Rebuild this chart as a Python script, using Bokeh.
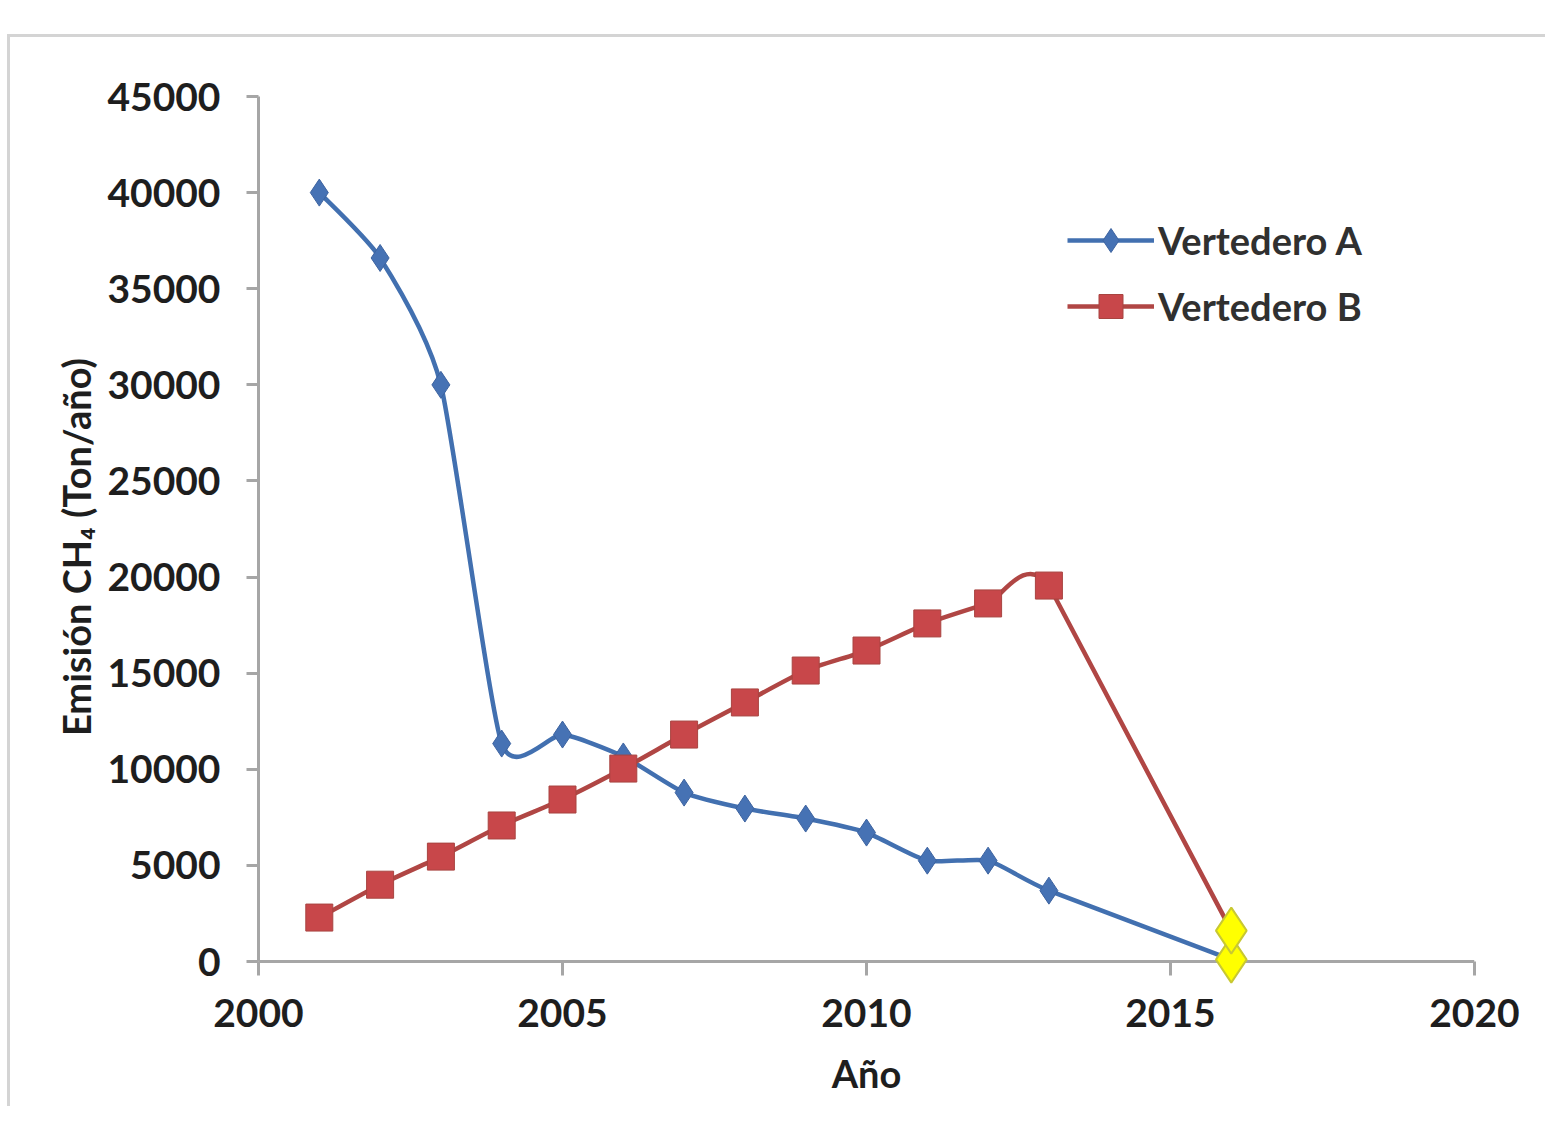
from bokeh.plotting import figure
from bokeh.models import Range1d, Legend, LegendItem, FixedTicker, BasicTickFormatter, Span
from bokeh.embed import file_html
from bokeh.resources import INLINE

years = [2001, 2002, 2003, 2004, 2005, 2006, 2007, 2008, 2009, 2010, 2011, 2012, 2013, 2016]
vert_a = [40000, 36600, 30000, 11340, 11810, 10670, 8790, 7960, 7440, 6710, 5250, 5250, 3690, 100]
vert_b = [2290, 4000, 5460, 7080, 8430, 10040, 11810, 13480, 15140, 16180, 17590, 18630, 19560, 1610]
x_ticks = [2000, 2005, 2010, 2015, 2020]
y_ticks = [0, 5000, 10000, 15000, 20000, 25000, 30000, 35000, 40000, 45000]

BLUE = "#4270b0"
BLUE_M = "#4672b4"
RED = "#b04644"
RED_M = "#c8474a"
AXIS = "#a6a6a6"

W, H = 1538, 1072
p = figure(width=W, height=H, output_backend="svg", toolbar_location=None,
           x_range=Range1d(2000, 2020), y_range=Range1d(-1400, 45000),
           min_border_left=248, min_border_top=59, min_border_right=74, min_border_bottom=121)
p.styles = {"position": "relative", "top": "27px", "transform": "translate(7px, 7px)",
            "border-left": "3px solid #d4d4d4", "border-top": "3px solid #d4d4d4"}
p.outline_line_color = None
p.xgrid.visible = False
p.ygrid.visible = False
p.background_fill_color = "white"

TENSION = 0.1


def smooth_segments(xs, ys):
    # Excel-like smoothing: cubic Bezier per segment; final segment kept straight
    n = len(xs)
    seg = dict(x0=[], y0=[], x1=[], y1=[], cx0=[], cy0=[], cx1=[], cy1=[])
    for i in range(n - 1):
        x0, y0, x1, y1 = xs[i], ys[i], xs[i + 1], ys[i + 1]
        seg["x0"].append(x0); seg["y0"].append(y0)
        seg["x1"].append(x1); seg["y1"].append(y1)
        if i == n - 2:
            seg["cx0"].append(x0 + (x1 - x0) / 3.0); seg["cy0"].append(y0 + (y1 - y0) / 3.0)
            seg["cx1"].append(x1 - (x1 - x0) / 3.0); seg["cy1"].append(y1 - (y1 - y0) / 3.0)
            continue
        xp, yp = (xs[i - 1], ys[i - 1]) if i > 0 else (x0, y0)
        xn, yn = (xs[i + 2], ys[i + 2]) if i + 2 < n else (x1, y1)
        seg["cx0"].append(x0 + (x1 - xp) * TENSION)
        seg["cy0"].append(y0 + (y1 - yp) * TENSION)
        seg["cx1"].append(x1 - (xn - x0) * TENSION)
        seg["cy1"].append(y1 - (yn - y0) * TENSION)
    return seg


# x axis line at y = 0
zero_line = Span(location=0, dimension="width", line_color=AXIS, line_width=3, level="underlay")
p.add_layout(zero_line)

sa = smooth_segments(years, vert_a)
sb = smooth_segments(years, vert_b)

p.bezier(x0="x0", y0="y0", x1="x1", y1="y1", cx0="cx0", cy0="cy0", cx1="cx1", cy1="cy1",
         source=sa, line_color=BLUE, line_width=4.5)
p.bezier(x0="x0", y0="y0", x1="x1", y1="y1", cx0="cx0", cy0="cy0", cx1="cx1", cy1="cy1",
         source=sb, line_color=RED, line_width=4.5)

ma = p.scatter(years[:-1], vert_a[:-1], marker="diamond", size=27, fill_color=BLUE_M, line_color="#3d63a0")
mb = p.scatter(years[:-1], vert_b[:-1], marker="square", size=27, fill_color=RED_M, line_color="#a84440")

# highlighted last points
p.scatter([years[-1]], [vert_a[-1]], marker="diamond", size=46, fill_color="#ffff00", line_color="#c8c832", line_width=2)
p.scatter([years[-1]], [vert_b[-1]], marker="diamond", size=46, fill_color="#ffff00", line_color="#c8c832", line_width=2)

# legend proxies
la = p.line([years[0]], [vert_a[0]], line_color=BLUE, line_width=4.5)
lb = p.line([years[0]], [vert_b[0]], line_color=RED, line_width=4.5)
legend = Legend(items=[LegendItem(label="Vertedero A", renderers=[la, ma]),
                       LegendItem(label="Vertedero B", renderers=[lb, mb])],
                location=(809, 652), orientation="vertical",
                label_text_font="Lato", label_text_font_style="bold",
                label_text_font_size="38px", label_text_color="#303030",
                glyph_width=87, glyph_height=60, spacing=6, padding=6, label_standoff=4,
                background_fill_alpha=0, border_line_color=None)
p.add_layout(legend, "center")

for ax in (p.xaxis[0], p.yaxis[0]):
    ax.axis_line_color = AXIS
    ax.axis_line_width = 3
    ax.major_tick_line_color = AXIS
    ax.major_tick_line_width = 3
    ax.minor_tick_line_color = None
    ax.major_label_text_font = "Lato"
    ax.major_label_text_font_style = "bold"
    ax.major_label_text_font_size = "39px"
    ax.major_label_text_color = "#1e1e1e"
    ax.axis_label_text_font = "Lato"
    ax.axis_label_text_font_style = "bold"
    ax.axis_label_text_font_size = "38px"
    ax.axis_label_text_color = "#1e1e1e"

p.xaxis.axis_line_color = None
p.yaxis.bounds = (0, 45000)
p.xaxis.ticker = FixedTicker(ticks=x_ticks)
p.yaxis.ticker = FixedTicker(ticks=y_ticks)
p.yaxis.formatter = BasicTickFormatter(use_scientific=False)
# x ticks drawn from y = 0 downwards (frame bottom sits 27 px below y = 0)
p.xaxis.major_tick_in = 27
p.xaxis.major_tick_out = -13
p.yaxis.major_tick_in = 0
p.yaxis.major_tick_out = 12
p.xaxis.major_label_standoff = 10
p.yaxis.major_label_standoff = 26
p.xaxis.axis_label = "Año"
p.yaxis.axis_label = "Emisión CH₄  (Ton/año)"
p.xaxis.axis_label_standoff = 20
p.yaxis.axis_label_standoff = 5

open("out.html", "w").write(file_html(p, INLINE))
